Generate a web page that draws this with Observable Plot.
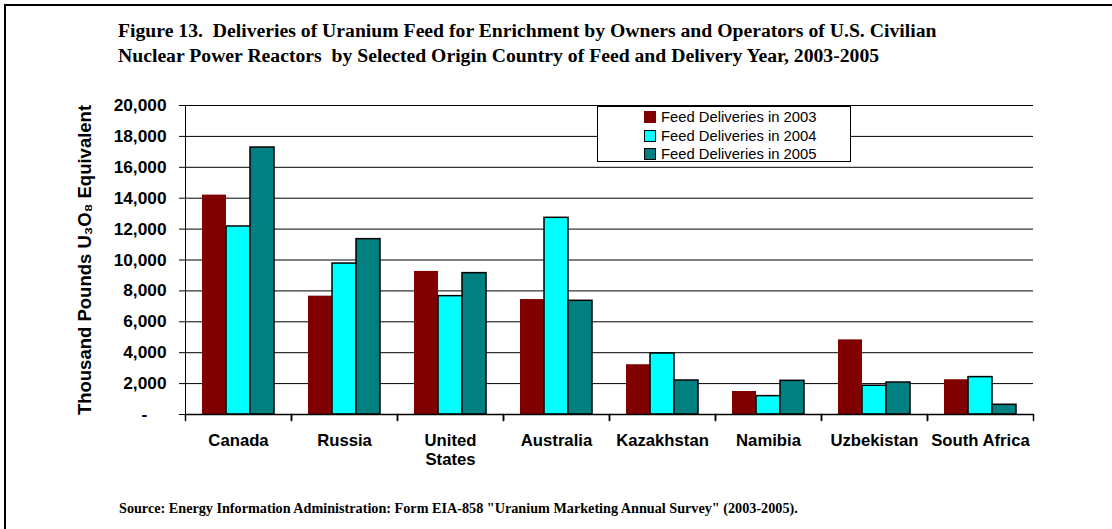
<!DOCTYPE html>
<html><head><meta charset="utf-8">
<script src="https://cdn.jsdelivr.net/npm/d3@7"></script>
<script src="https://cdn.jsdelivr.net/npm/@observablehq/plot@0.6"></script>
<style>
body{margin:0;width:1112px;height:529px;overflow:hidden;background:#fff;position:relative;font-family:"Liberation Sans",Arial,sans-serif;}
#frame{position:absolute;left:4px;top:4px;width:1200px;height:700px;border:2px solid #000;box-sizing:border-box;}
#title{position:absolute;left:118px;top:18px;font:bold 19.7px "Liberation Serif","Times New Roman",serif;line-height:25px;white-space:pre;color:#000;}
#chart{position:absolute;left:0;top:0;}
#legend{position:absolute;left:597px;top:106px;width:254px;height:56px;border:1px solid #000;background:#fff;box-sizing:border-box;padding-top:1px;}
.item{display:flex;align-items:center;height:18.5px;margin-left:46px;font-size:14.8px;color:#000;}
.sw{width:12px;height:12px;box-sizing:border-box;margin-right:5px;}
#source{position:absolute;left:119px;top:500px;font:bold 14.2px "Liberation Serif","Times New Roman",serif;white-space:pre;color:#000;}
</style>
</head><body>
<div id="frame"></div>
<div id="title"></div>
<div id="chart"></div>
<div id="legend"></div>
<div id="source"></div>
<script>
const titleLines = ["Figure 13.  Deliveries of Uranium Feed for Enrichment by Owners and Operators of U.S. Civilian",
                    "Nuclear Power Reactors  by Selected Origin Country of Feed and Delivery Year, 2003-2005"];
const sourceText = "Source: Energy Information Administration: Form EIA-858 \"Uranium Marketing Annual Survey\" (2003-2005).";
const yLabel = "Thousand Pounds U\u2083O\u2088 Equivalent";

const countries = ["Canada","Russia","United States","Australia","Kazakhstan","Namibia","Uzbekistan","South Africa"];
const years = ["2003","2004","2005"];
const seriesNames = ["Feed Deliveries in 2003","Feed Deliveries in 2004","Feed Deliveries in 2005"];
const deliveries2003 = [14200, 7660, 9260, 7440, 3220, 1490, 4830, 2250];
const deliveries2004 = [12170, 9770, 7660, 12730, 3950, 1190, 1860, 2420];
const deliveries2005 = [17280, 11350, 9150, 7360, 2200, 2180, 2070, 630];
const yTicks = [0, 2000, 4000, 6000, 8000, 10000, 12000, 14000, 16000, 18000, 20000];
const seriesColors = ["#800000", "#00ffff", "#008080"];

const series = [deliveries2003, deliveries2004, deliveries2005];
const data = countries.flatMap((c, i) => years.map((y, j) => ({country: c, year: y, value: series[j][i]})));

document.getElementById("title").textContent = titleLines.join("\n");
document.getElementById("source").textContent = sourceText;

const legend = document.getElementById("legend");
years.forEach((y, j) => {
  const it = document.createElement("div"); it.className = "item";
  const sw = document.createElement("div"); sw.className = "sw";
  sw.style.background = seriesColors[j];
  sw.style.border = j === 0 ? "none" : "1.5px solid #000";
  it.appendChild(sw);
  const t = document.createElement("span"); t.textContent = seriesNames[j];
  it.appendChild(t);
  legend.appendChild(it);
});

const tickShape = {draw(context, l) { context.moveTo(0, 0); context.lineTo(0, -l); }};
const fmt = d3.format(",");

const chart = Plot.plot({
  width: 1112, height: 480,
  marginTop: 105, marginLeft: 182, marginRight: 76, marginBottom: 66,
  style: {fontFamily: '"Liberation Sans",Arial,sans-serif', fontSize: "16.7px", fontWeight: "bold", color: "#000", background: "transparent", overflow: "visible"},
  fx: {domain: countries, padding: 0, label: null},
  x: {domain: years, paddingInner: 0, paddingOuter: 0.69, align: 0.5, axis: null},
  y: {domain: [0, 20000], label: null},
  color: {domain: years, range: seriesColors},
  marks: [
    Plot.gridY(yTicks, {stroke: "#000", strokeOpacity: 1, strokeWidth: 1}),
    Plot.barY(data.filter(d => d.year === years[0]), {fx: "country", x: "year", y: "value", fill: "year", inset: 0}),
    Plot.barY(data.filter(d => d.year !== years[0]), {fx: "country", x: "year", y: "value", fill: "year", stroke: "#000", strokeWidth: 1.5, inset: 0}),
    Plot.ruleY([0], {stroke: "#000", strokeWidth: 1.5}),
    Plot.frame({anchor: "left", facetAnchor: "left", stroke: "#000", strokeWidth: 1}),
    Plot.axisY(yTicks, {tickSize: 6, tickPadding: 13, fontSize: 17.3, tickFormat: d => d === 0 ? "-\u2007\u2007" : fmt(d),
      label: yLabel, labelAnchor: "center", labelArrow: "none", labelOffset: 108}),
    Plot.axisFx({anchor: "bottom", tickSize: 0, tickPadding: 18, lineHeight: 1.15, label: null,
      tickFormat: d => d === "United States" ? "United\nStates" : d}),
    Plot.vector([0], {frameAnchor: "bottom-left", length: 6, rotate: 180, anchor: "start", shape: tickShape, stroke: "#000"}),
    Plot.vector([0], {frameAnchor: "bottom-right", length: 6, rotate: 180, anchor: "start", shape: tickShape, stroke: "#000"})
  ]
});
document.getElementById("chart").appendChild(chart);
// enlarge the y-axis title text only
chart.querySelectorAll("text").forEach(t => { if (t.textContent === yLabel) t.style.fontSize = "18.5px"; });
</script>
</body></html>
